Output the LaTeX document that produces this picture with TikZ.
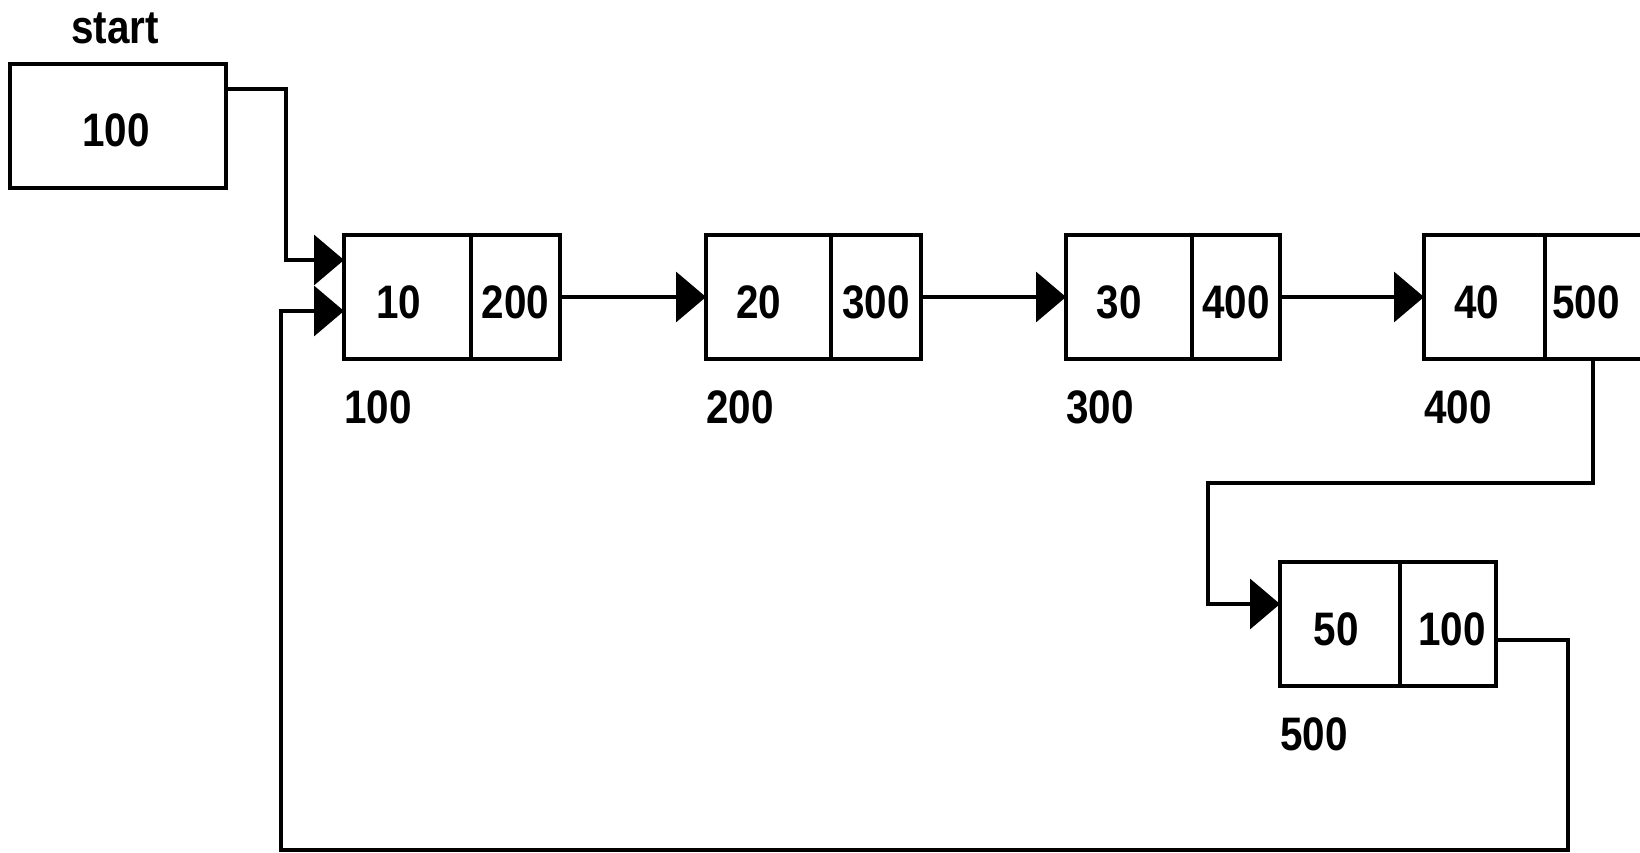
\documentclass[tikz,border=0pt]{standalone}
\usepackage{fontspec}
\usetikzlibrary{arrows.meta}
\newfontfamily\diagfont{Liberation Sans}[FakeStretch=0.86]
\begin{document}
\begin{tikzpicture}[x=1pt,y=-1pt,
  txt/.style={font=\diagfont\bfseries\fontsize{47}{50}\selectfont},
  cell/.style={txt, draw, line width=3.5pt, minimum height=124pt, inner sep=0pt, outer sep=0pt, anchor=center, text height=42pt, text depth=0pt},
  lbl/.style={txt, inner sep=0pt, anchor=west},
  conn/.style={line width=3.5pt, line join=miter},
  arr/.style={conn, -{Triangle[length=30pt,width=50pt]}}]
\useasboundingbox (0,0) rectangle (1640,853);
\clip (0,0) rectangle (1640,853);
\fill[white] (0,0) rectangle (1640,853);

% start pointer
\node[txt, inner sep=0pt, anchor=center] (st) at (115,28) {start};
\node[cell, minimum width=216pt] (sb) at (118,126) {\hspace*{-4pt}100};

% nodes
\node[cell, minimum width=127pt] (n1d) at (407.5,297) {\hspace*{-18pt}10};
\node[cell, minimum width=89pt]  (n1p) at (515.5,297) {200};
\node[cell, minimum width=125pt] (n2d) at (768.5,297) {\hspace*{-20pt}20};
\node[cell, minimum width=90pt]  (n2p) at (876,297) {300};
\node[cell, minimum width=126pt] (n3d) at (1129,297) {\hspace*{-20pt}30};
\node[cell, minimum width=88pt]  (n3p) at (1236,297) {400};
\node[cell, minimum width=121pt] (n4d) at (1484.5,297) {\hspace*{-16pt}40};
\node[cell, minimum width=100pt] (n4p) at (1595,297) {\hspace*{-18pt}500};
\node[cell, minimum width=120pt] (n5d) at (1340,624) {\hspace*{-8pt}50};
\node[cell, minimum width=96pt]  (n5p) at (1448,624) {\hspace*{8pt}100};

% address labels
\node[lbl] (a1) at ([yshift=-48pt]n1d.south west) {100};
\node[lbl] (a2) at ([yshift=-48pt]n2d.south west) {200};
\node[lbl] (a3) at ([yshift=-48pt]n3d.south west) {300};
\node[lbl] (a4) at ([yshift=-48pt]n4d.south west) {400};
\node[lbl] (a5) at ([yshift=-48pt]n5d.south west) {500};

% bend points
\coordinate (s1) at (286,89);
\coordinate (s2) at (286,260);
\coordinate (d1) at (1593,483);
\coordinate (d2) at (1208,483);
\coordinate (d3) at (1208,604);
\coordinate (e1) at (1568,640);
\coordinate (e2) at (1568,850);
\coordinate (e3) at (281,850);
\coordinate (e4) at (281,311);

% connectors
\draw[arr] (sb.east |- s1) -- (s1) -- (s2) -- (n1d.west |- s2);
\draw[arr] (n1p) -- (n2d);
\draw[arr] (n2p) -- (n3d);
\draw[arr] (n3p) -- (n4d);
\draw[arr] (d1 |- n4p.south) -- (d1) -- (d2) -- (d3) -- (n5d.west |- d3);
\draw[arr] (n5p.east |- e1) -- (e1) -- (e2) -- (e3) -- (e4) -- (n1d.west |- e4);
\end{tikzpicture}
\end{document}
